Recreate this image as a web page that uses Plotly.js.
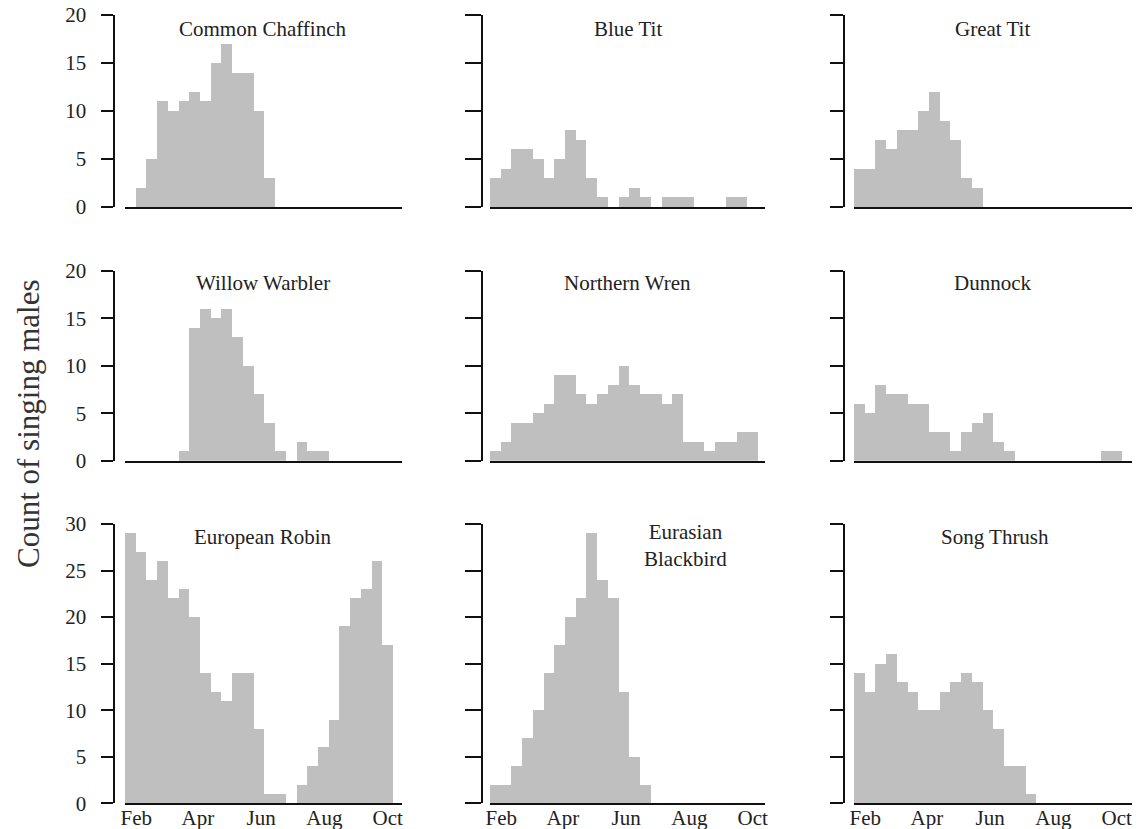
<!DOCTYPE html>
<html>
<head>
<meta charset="utf-8">
<script src="https://cdn.plot.ly/plotly-3.0.1.min.js"></script>
<style>
html,body{margin:0;padding:0;background:#fff;}
#chart{width:1146px;height:829px;}
</style>
</head>
<body>
<div id="chart"></div>
<script>
// ---------- data ----------
const binCenters = [0.5,1.5,2.5,3.5,4.5,5.5,6.5,7.5,8.5,9.5,10.5,11.5,12.5,13.5,14.5,15.5,16.5,17.5,18.5,19.5,20.5,21.5,22.5,23.5,24.5];
const monthLabels = ['Feb','Apr','Jun','Aug','Oct'];
const monthBinPositions = [1.05, 6.8, 12.7, 18.6, 24.5];

const commonChaffinch = [0,2,5,11,10,11,12,11,15,17,14,14,10,3,0,0,0,0,0,0,0,0,0,0,0];
const blueTit         = [3,4,6,6,5,3,5,8,7,3,1,0,1,2,1,0,1,1,1,0,0,0,1,1,0];
const greatTit        = [4,4,7,6,8,8,10,12,9,7,3,2,0,0,0,0,0,0,0,0,0,0,0,0,0];
const willowWarbler   = [0,0,0,0,0,1,14,16,15,16,13,10,7,4,1,0,2,1,1,0,0,0,0,0,0];
const northernWren    = [1,2,4,4,5,6,9,9,7,6,7,8,10,8,7,7,6,7,2,2,1,2,2,3,3];
const dunnock         = [6,5,8,7,7,6,6,3,3,1,3,4,5,2,1,0,0,0,0,0,0,0,0,1,1];
const europeanRobin   = [29,27,24,26,22,23,20,14,12,11,14,14,8,1,1,0,2,4,6,9,19,22,23,26,17];
const eurasianBlackbird = [2,2,4,7,10,14,17,20,22,29,24,22,12,5,2,0,0,0,0,0,0,0,0,0,0];
const songThrush      = [14,12,15,16,13,12,10,10,12,13,14,13,10,8,4,4,1,0,0,0,0,0,0,0,0];

const speciesTitles = [
  'Common Chaffinch', 'Blue Tit', 'Great Tit',
  'Willow Warbler', 'Northern Wren', 'Dunnock',
  'European Robin', 'Eurasian<br>Blackbird', 'Song Thrush'
];
const speciesCounts = [commonChaffinch, blueTit, greatTit, willowWarbler, northernWren, dunnock, europeanRobin, eurasianBlackbird, songThrush];
const rowMax = [20, 20, 30];
const yAxisTitle = 'Count of singing males';

// ---------- layout geometry (pixels) ----------
const W = 1146, H = 829;
const colX = [[125, 401.7], [490, 765], [854, 1131.7]];
const yLineX = [113.5, 481.7, 844.3];
const rowY = [[15, 207], [270.7, 460.7], [524, 803.3]];
const titleY = [29, 283, 537];
const titleOffsetX = [0, 0, 0, 0, 0, 0, 0, 58, 2];
const titleOffsetY = [0, 0, 0, 0, 0, 0, 0, 8, 0];
const tickLens = [12, 16, 13];
const FONT = 'Liberation Serif, Times New Roman, serif';

const px = v => v / W;
const py = v => 1 - v / H;

const traces = [];
const layout = {
  width: W, height: H,
  margin: {l: 0, r: 0, t: 0, b: 0},
  paper_bgcolor: '#ffffff', plot_bgcolor: '#ffffff',
  showlegend: false,
  bargap: 0,
  font: {family: FONT, size: 21, color: '#222'},
  annotations: []
};

for (let i = 0; i < 9; i++) {
  const r = Math.floor(i / 3), c = i % 3;
  const n = i + 1;
  const xk = n === 1 ? 'xaxis' : 'xaxis' + n;
  const yk = n === 1 ? 'yaxis' : 'yaxis' + n;
  const xr = n === 1 ? 'x' : 'x' + n;
  const yr = n === 1 ? 'y' : 'y' + n;

  traces.push({
    type: 'bar', x: binCenters, y: speciesCounts[i],
    width: 1, xaxis: xr, yaxis: yr,
    marker: {color: '#bfbfbf', line: {width: 0}},
    hoverinfo: 'y'
  });

  const binW = 10.72;
  const xLen = (colX[c][1] - colX[c][0]) / binW;

  layout[xk] = {
    domain: [px(colX[c][0]), px(colX[c][1])],
    anchor: yr,
    range: [0, xLen],
    showline: true, linecolor: '#111', linewidth: 2,
    ticks: '', ticklen: 0, showgrid: false, zeroline: false,
    tickmode: 'array', tickvals: monthBinPositions, ticktext: monthLabels,
    showticklabels: r === 2,
    ticklabelstandoff: -6,
    tickfont: {family: FONT, size: 21, color: '#222'},
    automargin: false, fixedrange: true
  };
  layout[yk] = {
    domain: [py(rowY[r][1]), py(rowY[r][0])],
    anchor: 'free', position: px(yLineX[c]),
    range: [0, rowMax[r]],
    tickmode: 'linear', tick0: 0, dtick: 5,
    showline: true, linecolor: '#111', linewidth: 2,
    ticks: 'outside', ticklen: tickLens[c], tickwidth: 2, tickcolor: '#111',
    showgrid: false, zeroline: false,
    showticklabels: c === 0,
    ticklabelstandoff: 10,
    tickfont: {family: FONT, size: 21, color: '#222'},
    automargin: false, fixedrange: true
  };

  const cx = (colX[c][0] + colX[c][1]) / 2 + titleOffsetX[i];
  layout.annotations.push({
    text: speciesTitles[i], xref: 'paper', yref: 'paper',
    x: px(cx), y: py(titleY[r] + titleOffsetY[i]),
    xanchor: 'center', yanchor: 'middle', showarrow: false,
    font: {family: FONT, size: 21, color: '#222'}
  });
}

layout.annotations.push({
  text: yAxisTitle, xref: 'paper', yref: 'paper',
  x: px(28), y: py(424), xanchor: 'center', yanchor: 'middle',
  textangle: -90, showarrow: false,
  font: {family: FONT, size: 31, color: '#333'}
});

Plotly.newPlot('chart', traces, layout, {displayModeBar: false, staticPlot: true});
</script>
</body>
</html>
